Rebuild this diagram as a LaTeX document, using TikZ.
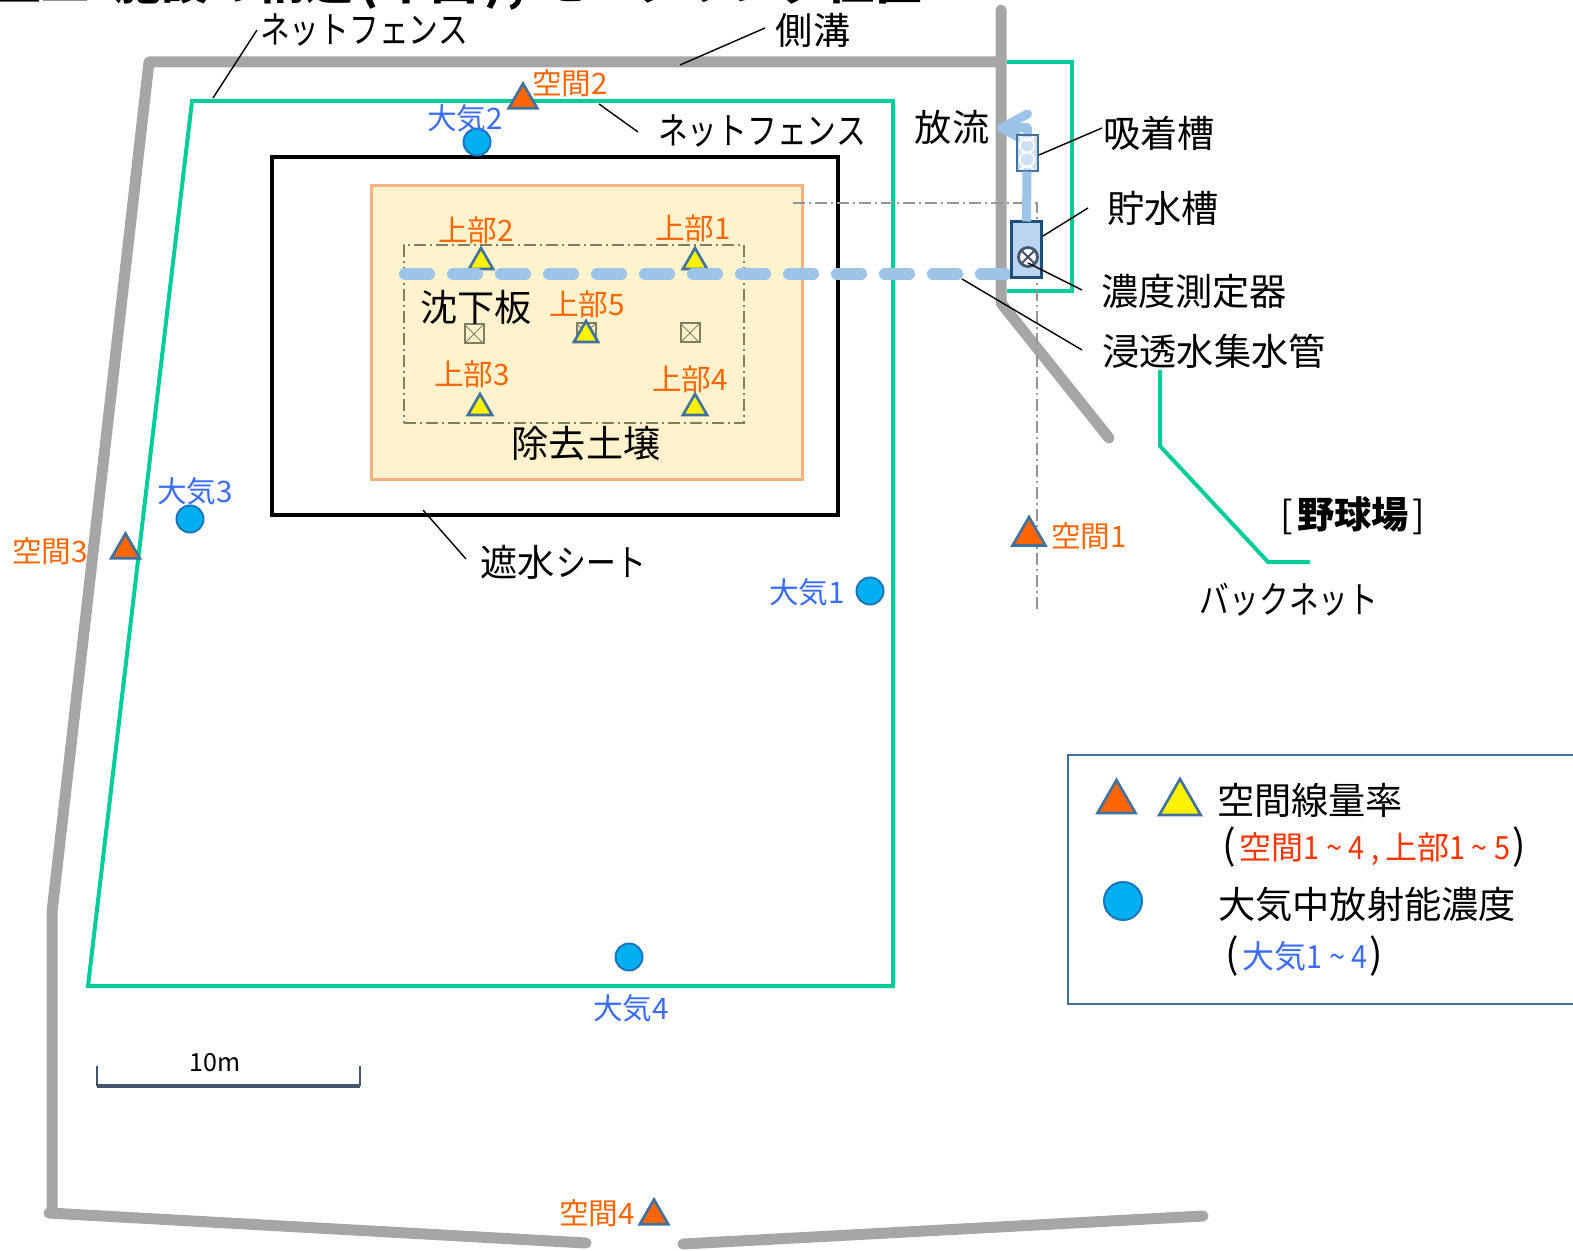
\documentclass[tikz,border=0pt]{standalone}
\usepackage{fontspec}
\setmainfont{Noto Sans CJK JP}
\newfontfamily\kn[FakeStretch=0.8]{Noto Sans CJK JP}
\newfontfamily\nm[FakeStretch=0.9]{Noto Sans CJK JP}
\usetikzlibrary{shapes.geometric,arrows.meta}
\definecolor{ditch}{HTML}{A6A6A6}
\definecolor{fence}{HTML}{00CC99}
\definecolor{pipe}{HTML}{9DC3E6}
\definecolor{steel}{HTML}{41719C}
\definecolor{orng}{HTML}{FF6600}
\definecolor{blu}{HTML}{3B6CF5}
\definecolor{sky}{HTML}{00B0F0}
\definecolor{skyline}{HTML}{1B75BC}
\definecolor{plate}{HTML}{7F7F5F}
\definecolor{slate}{HTML}{44546A}
\definecolor{navy}{HTML}{1F4E79}
\definecolor{soilfill}{HTML}{FFF2CC}
\definecolor{soilline}{HTML}{F4B183}
\definecolor{redt}{HTML}{FF3300}
\tikzset{
 ditchline/.style={draw=ditch,line width=5.5pt,line cap=round,line join=round},
 fenceline/.style={draw=fence,line width=2pt,line join=miter},
 leader/.style={draw=black,line width=0.7pt},
 pipeline/.style={draw=pipe,line width=4.5pt},
 big/.style={font=\fontsize{18.6}{20}\selectfont,inner sep=0,text=black},
 kana/.style={font=\kn\fontsize{18.6}{20}\selectfont,inner sep=0,text=black},
 sora/.style={font=\fontsize{14.8}{16}\selectfont,inner sep=0,text=orng},
 air/.style={font=\fontsize{14.8}{16}\selectfont,inner sep=0,text=blu},
 tri/.style={regular polygon,regular polygon sides=3,inner sep=0,outer sep=0,draw=steel,line width=1.3pt},
 trio/.style={tri,fill=orng,minimum size=16.5pt},
 triy/.style={tri,fill=yellow,minimum size=14pt},
 airdot/.style={circle,inner sep=0,outer sep=0,fill=sky,draw=skyline,line width=1pt,minimum size=13.5pt},
 platebox/.style={rectangle,inner sep=0,draw=plate,line width=1pt,minimum size=9.5pt,
   path picture={\draw[plate,line width=0.5pt] (path picture bounding box.north west)--(path picture bounding box.south east)
     (path picture bounding box.north east)--(path picture bounding box.south west);}},
}
\begin{document}
\begin{tikzpicture}[x=0.5pt,y=-0.5pt]
\useasboundingbox (0,0) rectangle (1573,1251);
\clip (0,0) rectangle (1573,1251);
% title
\node[anchor=base east,inner sep=0,font=\bfseries\fontsize{24}{28}\selectfont] (title) at (923,0) {土工\hspace{12pt}施設の構造\hspace{3pt}(\hspace{2pt}平面\hspace{3pt})\hspace{2pt},\hspace{7pt}モニタリング位置};
% ditch
\coordinate (d1) at (149,62); \coordinate (d2) at (1001,62); \coordinate (d3) at (52,912);
\coordinate (d4) at (49,1213); \coordinate (d5) at (586,1243); \coordinate (d6) at (683,1244);
\coordinate (d7) at (1203,1216); \coordinate (d8) at (1001,10); \coordinate (d9) at (1001,303);
\coordinate (d10) at (1109,438); \coordinate (d11) at (52,1213);
\draw[ditchline] (d2)--(d1)--(d3)--(d11)--(d4)--(d5);
\draw[ditchline] (d6)--(d7);
\draw[ditchline] (d8)--(d9)--(d10);
% fences
\coordinate (f1) at (192,101); \coordinate (f2) at (893,101); \coordinate (f3) at (893,986); \coordinate (f4) at (88,986);
\draw[fenceline] (f1)--(f2)--(f3)--(f4)--cycle;
\coordinate (g1) at (1007,62); \coordinate (g2) at (1072,62); \coordinate (g3) at (1072,291); \coordinate (g4) at (1007,291);
\draw[fenceline] (g1)--(g2)--(g3)--(g4);
\coordinate (b1) at (1160,370); \coordinate (b2) at (1160,446); \coordinate (b3) at (1268,562); \coordinate (b4) at (1310,562);
\draw[fenceline] (b1)--(b2)--(b3)--(b4);
% sheet and soil
\node[draw=black,line width=2pt,minimum width=283pt,minimum height=179pt,inner sep=0,outer sep=0] (sheet) at (555,336) {};
\node[fill=soilfill,draw=soilline,line width=1.5pt,minimum width=215.5pt,minimum height=146.5pt,inner sep=0,outer sep=0] (soil) at (586.5,332.5) {};
\node[draw=plate,line width=0.8pt,dash pattern=on 6pt off 2pt on 1pt off 2pt,minimum width=170pt,minimum height=89pt,inner sep=0,outer sep=0] (plate) at (574,334) {};
% grey centre lines
\coordinate (c1) at (793,203); \coordinate (c2) at (1037,203); \coordinate (c3) at (1037,610);
\draw[ditch!90!black,line width=0.7pt,dash pattern=on 6pt off 2pt on 1pt off 2pt] (c1)--(c2)--(c3);
% plate markers
\node[platebox] (p1) at (474,334) {};
\node[platebox] (p2) at (586,333) {};
\node[platebox] (p3) at (690,333) {};
% yellow triangles
\node[triy] (u2) at (481,262) {};
\node[triy] (u1) at (695,262) {};
\node[triy] (u5) at (586,335) {};
\node[triy] (u3) at (480,408) {};
\node[triy] (u4) at (695,408) {};
% collector pipe
\coordinate (pw) at (405,274); \coordinate (pe) at (1005,274);
\draw[draw=pipe,line width=6pt,line cap=round,dash pattern=on 12pt off 12pt] (pw)--(pe);
% tanks
\coordinate (out) at (997,128);
\coordinate (adstop) at (1027,140);
\draw[pipeline,line join=round,-{Straight Barb[length=13pt,width=14pt,round]}] (adstop)|-(out);
\node[draw=navy,fill=pipe!70!white,line width=1.5pt,minimum width=15pt,minimum height=28pt,inner sep=0,outer sep=0] (tank) at (1026.5,249.5) {};
\node[draw=steel,fill=pipe!50!white,line width=1pt,minimum width=10.5pt,minimum height=18pt,inner sep=0,outer sep=0,
 path picture={\foreach \yy in {-10pt,-3pt,4pt,10pt}{\draw[white,line width=0.9pt] ([yshift=\yy]path picture bounding box.center) circle (3.6pt);}}] (ads) at (1027,153.5) {};
\draw[pipeline] (ads.south)--(tank.north);
\node[circle,draw=slate,fill=white,line width=1.4pt,minimum size=9.5pt,inner sep=0,outer sep=0,
 path picture={\draw[slate,line width=1pt] (path picture bounding box.north west)--(path picture bounding box.south east)
   (path picture bounding box.north east)--(path picture bounding box.south west);}] (meter) at (1028,257) {};
% orange triangles
\node[trio] (s2) at (523,100) {};
\node[trio] (s3) at (125.5,550) {};
\node[trio,minimum size=19pt] (s1) at (1029,536) {};
\node[trio] (s4) at (654,1216) {};
% air dots
\node[airdot] (a2) at (477,142) {};
\node[airdot] (a3) at (190,519) {};
\node[airdot] (a1) at (870,591) {};
\node[airdot] (a4) at (629,957) {};
% labels
\node[kana] (lfn1) at (364,30) {ネットフェンス};
\node[big] (lsk) at (813,30) {側溝};
\node[kana] (lfn2) at (762,131) {ネットフェンス};
\node[big] (lho) at (952,127) {放流};
\node[big] (lkyu) at (1159,133) {吸着槽};
\node[big] (lcho) at (1163,208) {貯水槽};
\node[big] (lno) at (1194,291) {濃度測定器};
\node[big] (lsh) at (1214,351) {浸透水集水管};
\node[big] (lya) at (1353,516) {[\hspace{2pt}\textbf{野球場}\hspace{2pt}]};
\node[kana] (lbn) at (1289,600) {バックネット};
\node[big] (lchin) at (476,307) {沈下板};
\node[big] (ljo) at (586,443) {除去土壌};
\node[big] (lsha) at (563,562) {遮水{\kn\hspace{1pt}シート}};
\node[sora] at (570,83) (t1) {空間2};
\node[sora] at (1089,536) (t2) {空間1};
\node[sora] at (50,551) (t3) {空間3};
\node[sora] at (597,1213) (t4) {空間4};
\node[sora] at (476,230) (t5) {上部2};
\node[sora] at (693,228) (t6) {上部1};
\node[sora] at (587,304) (t7) {上部5};
\node[sora] at (472,374) (t8) {上部3};
\node[sora] at (690,379) (t9) {上部4};
\node[air] at (465,118) (t10) {大気2};
\node[air] at (195,491) (t11) {大気3};
\node[air] at (807,592) (t12) {大気1};
\node[air] at (631,1008) (t13) {大気4};
% leaders
\coordinate (e1a) at (257,30); \coordinate (e1b) at (213,98);
\coordinate (e2a) at (765,28); \coordinate (e2b) at (680,65);
\coordinate (e3a) at (599,104); \coordinate (e3b) at (638,132);
\coordinate (e4a) at (1039,155); \coordinate (e4b) at (1102,128);
\coordinate (e5a) at (1043,236); \coordinate (e5b) at (1088,208);
\coordinate (e6a) at (1028,263); \coordinate (e6b) at (1082,290);
\coordinate (e7a) at (962,279); \coordinate (e7b) at (1082,350);
\coordinate (e8a) at (423,510); \coordinate (e8b) at (466,559);
\foreach \n in {1,...,8}{\draw[leader] (e\n a)--(e\n b);}
% scale bar
\coordinate (sb1) at (97,1066); \coordinate (sb2) at (97,1086); \coordinate (sb3) at (360,1086); \coordinate (sb4) at (360,1066);
\draw[draw=slate,line width=0.6pt] (sb1)--(sb2) (sb3)--(sb4);
\draw[draw=slate,line width=1.8pt] (sb2)--(sb3);
\node[inner sep=0,font=\fontsize{12.5}{14}\selectfont] (sbl) at (215,1063) {10m};
% legend
\node[draw=steel,line width=1pt,fill=none,minimum width=270pt,minimum height=124.5pt,inner sep=0,outer sep=0] (leg) at (1338,879.5) {};
\node[tri,fill=orng,minimum size=22pt] (k1) at (1116.5,802) {};
\node[tri,fill=yellow,minimum size=24pt] (k2) at (1180,803) {};
\node[airdot,minimum size=19pt] (k3) at (1123,901) {};
\node[big] (k4) at (1310,800) {空間線量率};
\node[big] (k5) at (1367,904) {大気中放射能濃度};
\node[inner sep=0,font=\fontsize{16}{18}\selectfont] (k6) at (1374,847) {{\fontsize{20}{20}\selectfont (}\hspace{2pt}\textcolor{redt}{空間{\nm 1 \textasciitilde{} 4 , }上部{\nm 1 \textasciitilde{} 5}}\hspace{1pt}{\fontsize{20}{20}\selectfont )}};
\node[inner sep=0,font=\fontsize{16}{18}\selectfont] (k7) at (1304,956) {{\fontsize{20}{20}\selectfont (}\hspace{2pt}\textcolor{blu}{大気{\nm 1 \textasciitilde{} 4}}\hspace{1pt}{\fontsize{20}{20}\selectfont )}};
\end{tikzpicture}
\end{document}
